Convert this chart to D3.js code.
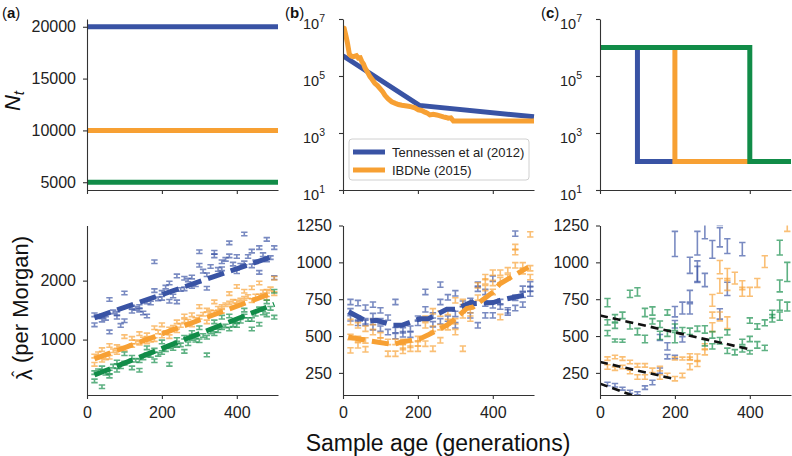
<!DOCTYPE html>
<html><head><meta charset="utf-8">
<script src="https://cdn.jsdelivr.net/npm/d3@7"></script>
<style>body{margin:0;background:#fff} text{font-family:"Liberation Sans",Arial,Helvetica,sans-serif}</style>
</head><body><svg id="c" width="792" height="456"></svg>
<script>
// ---------- DATA ----------
const genTicks = [0, 200, 400];
const topATicks = [5000, 10000, 15000, 20000];
const logTicks = [10, 1000, 100000, 10000000];
const botATicks = [1000, 2000];
const botBCTicks = [250, 500, 750, 1000, 1250];

// (a) top: constant sizes
const topA_gens = [0, 510];
const topA_blue = [20000, 20000];
const topA_orange = [10000, 10000];
const topA_green = [5000, 5000];

// (b) top
const topB_tennGens = [0, 204, 510];
const topB_tennNe = [512000, 9300, 3700];
const topB_ibdGens = [0,3,8,12,17,22,28,36,41,46,50,55,59,65,72,78,85,92,99,106,112,120,130,140,148,157,166,175,183,192,201,210,219,226,232,241,250,259,268,275,281,288,295,510];
const topB_ibdNe = [5.0e6,4.7e6,2.5e6,1.4e6,5.8e5,5.0e5,4.8e5,5.2e5,4.3e5,4.4e5,3.3e5,2.6e5,1.9e5,1.4e5,9.5e4,7.5e4,5.5e4,4.6e4,3.6e4,2.8e4,2.1e4,1.6e4,1.25e4,1.1e4,1.0e4,9400,9100,8700,8300,7600,6500,6200,5400,4900,4300,4500,4300,4000,3700,3500,3300,3400,2630,2630];

// (c) top: step histories
const topC_blueGens = [0, 100, 100, 510];
const topC_blueNe = [1e6, 1e6, 100, 100];
const topC_orangeGens = [0, 200, 200, 510];
const topC_orangeNe = [1e6, 1e6, 100, 100];
const topC_greenGens = [0, 400, 400, 510];
const topC_greenNe = [1e6, 1e6, 100, 100];

// (a) bottom: [generation, lambda]
const botA_blue = [[20,1420],[20,1250],[40,1400],[40,1330],[60,1680],[60,1130],[80,1440],[80,1380],[100,1320],[100,1790],[120,1550],[120,1480],[140,1560],[140,1500],[160,1640],[160,1400],[180,2320],[180,1830],[200,1800],[200,1700],[220,1650],[220,1960],[240,2080],[240,1640],[260,2040],[260,1860],[280,1900],[280,2060],[300,2490],[300,2260],[320,2100],[320,1870],[340,2420],[340,2480],[360,2320],[360,2200],[380,2640],[380,2420],[400,2410],[400,2150],[420,2790],[420,2300],[440,2250],[440,2500],[460,2560],[460,2140],[480,2700],[480,2350],[500,2560],[500,2050],
  [30,1390],[50,1360],[70,1470],[90,1240],[130,1530],[150,1450],[170,1620],[190,1690],[210,1890],[230,1740],[250,1850],[270,2010],[290,1930],[310,2160],[330,2240],[350,2190],[370,2360],[390,2280],[410,2260],[430,2410],[450,2320],[470,2440],[490,2390]];
const botA_orange = [[20,580],[20,720],[40,650],[40,830],[60,900],[60,700],[80,780],[80,880],[100,840],[100,1050],[120,1020],[120,900],[140,940],[140,1100],[160,1080],[160,960],[180,1000],[180,1200],[200,1060],[200,1250],[220,1180],[220,1050],[240,1300],[240,1150],[260,1320],[260,1400],[280,1420],[280,1250],[300,1380],[300,1560],[320,1500],[320,1300],[340,1460],[340,1640],[360,1560],[360,1480],[380,1780],[380,1620],[400,1640],[400,1900],[420,1700],[420,1820],[440,1880],[440,1660],[460,1740],[460,1960],[480,1820],[480,1700],[500,2040],[500,1780],
  [30,760],[50,690],[70,810],[90,850],[130,960],[150,1010],[170,990],[190,1130],[210,1120],[230,1210],[250,1240],[270,1310],[290,1340],[310,1430],[330,1470],[350,1530],[370,1590],[390,1650],[410,1670],[430,1730],[450,1740],[470,1810],[490,1860]];
const botA_green = [[20,300],[20,440],[40,200],[40,520],[60,450],[60,380],[80,620],[80,480],[100,600],[100,760],[120,520],[120,700],[140,640],[140,480],[160,740],[160,860],[180,820],[180,640],[200,780],[200,960],[220,880],[220,580],[240,900],[240,1000],[260,1040],[260,800],[280,1020],[280,1120],[300,980],[300,1200],[320,1040],[320,740],[340,1300],[340,1100],[360,1200],[360,1380],[380,1180],[380,1400],[400,1240],[400,1320],[420,1400],[420,1500],[440,1340],[440,1180],[460,1520],[460,1260],[480,1640],[480,1420],[500,1380],[500,1820],
  [30,470],[50,430],[70,550],[90,540],[130,650],[150,690],[170,730],[190,750],[210,830],[230,850],[250,910],[270,930],[290,990],[310,1070],[330,1130],[350,1150],[370,1230],[390,1250],[410,1310],[430,1340],[450,1430],[470,1450],[490,1530]];
const botA_fitGens = [20, 500];
const botA_fitBlue = [1370, 2420];
const botA_fitOrange = [674, 1800];
const botA_fitGreen = [400, 1600];

// (b) bottom
const botB_blue = [[20,731],[40,724],[60,693],[80,713],[100,674],[140,731],[220,799],[260,849],[280,763],[300,790],[360,849],[400,889],[460,1195],[480,821],[500,851],[20,668],[40,618],[60,600],[80,636],[120,625],[100,550],[120,527],[160,539],[180,550],[200,618],[160,512],[180,509],[220,681],[260,731],[280,618],[300,573],[320,720],[340,738],[360,821],[380,799],[360,573],[400,708],[420,731],[440,674],[460,690],[480,713],[500,788],[20,620],[40,590],[60,590],[80,560],[140,540],[100,600],[140,500],[200,590],[240,640],[260,600],[320,680],[340,640],[380,640],[400,640],[420,700],[440,660],[460,760],[480,780],[500,820],[240,580],[300,650],[380,720]];
const botB_orange = [[500,1190],[460,1104],[460,1070],[460,980],[480,980],[400,930],[420,930],[440,946],[500,900],[380,871],[360,844],[380,826],[400,799],[300,742],[320,731],[240,668],[260,652],[220,618],[280,663],[280,595],[300,527],[320,414],[340,674],[340,618],[420,629],[20,595],[40,573],[60,550],[80,595],[20,494],[40,437],[60,410],[20,403],[100,505],[120,460],[140,460],[160,426],[180,414],[200,414],[120,380],[140,380],[220,448],[240,414],[260,471],[220,573],[80,527],[100,470],[160,460],[180,440],[200,450],[240,550],[260,560],[300,600],[320,640],[340,700],[360,760],[380,900],[400,860],[420,880],[440,900],[480,940],[500,960],[60,470],[40,480],[160,400],[200,480],[280,560]];
const botB_fitBlueGens = [15,63,90,134,157,206,228,277,299,344,348,401,419,473,500];
const botB_fitBlue = [665,600,607,573,573,618,618,681,681,731,720,727,742,772,785];
const botB_fitOrangeGens = [14,63,90,134,157,206,228,277,295,330,348,401,419,495];
const botB_fitOrange = [494,471,460,442,460,482,509,573,607,686,697,799,855,968];

// (c) bottom: [generation, lambda, error]
const botC_blue = [[20,175,12],[40,166,12],[60,143,10],[80,122,10],[100,112,10],[120,150,12],[140,185,15],[160,265,18],[180,360,15],[200,358,12],[160,490,20],[180,430,25],[200,580,25],[200,665,35],[220,478,18],[220,690,40],[240,685,35],[240,770,40],[260,918,55],[240,980,55],[200,1125,85],[260,1130,80],[280,1210,50],[300,1088,60],[320,1170,65],[340,1110,50],[380,1090,45],[260,940,70],[280,880,45],[340,820,45],[320,650,35],[320,1290,40]];
const botC_orange = [[20,347,12],[40,358,12],[60,347,12],[80,324,12],[20,290,15],[40,279,12],[60,290,12],[80,256,12],[100,301,12],[120,301,12],[100,222,15],[120,222,15],[140,267,15],[160,279,15],[160,222,15],[180,233,15],[200,211,15],[220,233,15],[200,347,10],[220,347,10],[240,347,10],[240,292,20],[240,360,20],[260,313,20],[260,353,25],[280,392,20],[280,428,20],[300,560,30],[300,642,20],[300,742,40],[320,633,30],[340,590,40],[320,840,50],[340,850,40],[320,968,45],[340,918,40],[360,893,40],[380,845,30],[380,800,30],[400,800,30],[420,860,30],[440,1005,40],[500,1235,25]];
const botC_green = [[20,727,28],[20,593,18],[20,520,18],[40,570,18],[40,620,25],[60,640,22],[80,786,25],[100,800,28],[80,570,22],[100,530,22],[120,660,28],[120,480,25],[140,670,28],[140,600,18],[160,505,28],[160,580,22],[180,660,18],[180,520,22],[200,560,22],[200,490,35],[220,540,18],[240,532,22],[260,550,18],[280,545,25],[300,508,22],[280,455,22],[300,430,18],[320,468,22],[340,525,18],[340,400,18],[360,390,18],[380,410,18],[380,460,18],[400,480,18],[400,390,12],[420,440,22],[440,420,18],[400,605,18],[420,565,18],[440,590,20],[460,620,25],[460,650,25],[480,635,28],[480,710,35],[500,700,30],[480,840,40],[500,935,65],[480,1100,50],[40,470,10],[60,468,10]];
const botC_fitBlue = [[0,177],[100,85]];
const botC_fitOrange = [[0,324],[195,211]];
const botC_fitGreen = [[0,640],[400,410]];

// ---------- DRAWING ----------
const svg = d3.select("#c");
const FONT = '"Liberation Sans",Arial,Helvetica,sans-serif';
const COL = {blue:"#3953a4", orange:"#f7a033", green:"#118c48"};
const X0 = [87, 343, 600], PW = 191;
const topR = [190, 19], botR = [395, 225.5];
const xs = X0.map(x => d3.scaleLinear().domain([0, 510]).range([x, x + PW]));

function styleAxis(g){
  g.selectAll(".domain").attr("stroke","#333").attr("stroke-width",1.1);
  g.selectAll(".tick line").attr("stroke","#333").attr("stroke-width",1.1);
  g.selectAll(".tick text").attr("fill","#222").attr("font-family",FONT).attr("font-size","16px");
}
function xAxis(i, y, labels){
  const g = svg.append("g").attr("transform",`translate(0,${y})`)
    .call(d3.axisBottom(xs[i]).tickValues(genTicks).tickSize(4).tickSizeOuter(0).tickPadding(8)
      .tickFormat(labels ? d3.format("d") : ""));
  styleAxis(g);
}
function yAxis(i, scale, ticks, fmt, pad){
  const g = svg.append("g").attr("transform",`translate(${X0[i]},0)`)
    .call(d3.axisLeft(scale).tickValues(ticks).tickSize(4).tickSizeOuter(0).tickPadding(pad||7).tickFormat(fmt||d3.format("d")));
  styleAxis(g);
  return g;
}
function clip(id, i, r){
  svg.append("clipPath").attr("id",id).append("rect")
    .attr("x",X0[i]).attr("y",r[1]).attr("width",PW+2).attr("height",r[0]-r[1]);
}
const line = (x, y) => d3.line().x(d => x(d[0])).y(d => y(d[1]));
const zip = (a, b) => a.map((v, k) => [v, b[k]]);

function drawLine(i, y, gens, vals, col, w, dash, clipId){
  const p = svg.append("path").datum(zip(gens, vals))
    .attr("d", line(xs[i], y)).attr("fill","none").attr("stroke",col)
    .attr("stroke-width",w).attr("stroke-linejoin","miter");
  if (dash) p.attr("stroke-dasharray",dash);
  if (clipId) p.attr("clip-path",`url(#${clipId})`);
}
function drawErr(i, y, pts, col, defErr, clipId){
  const x = xs[i];
  svg.append("g").attr("clip-path",`url(#${clipId})`).selectAll("path").data(pts).join("path")
    .attr("d", d => {
      const e = d.length > 2 ? d[2] : defErr;
      const cx = x(d[0]), y1 = y(d[1]-e), y2 = y(d[1]+e);
      return `M${cx-3.2},${y1}H${cx+3.2}M${cx},${y1}V${y2}M${cx-3.2},${y2}H${cx+3.2}`;
    })
    .attr("fill","none").attr("stroke",col).attr("stroke-width",1.6).attr("stroke-opacity",0.68);
}

// ---- top row ----
const yTopA = d3.scaleLinear().domain([4250, 20750]).range(topR);
const yLog = d3.scaleLog().domain([10, 1e7]).range(topR);

clip("ct0",0,topR); clip("ct1",1,topR); clip("ct2",2,topR);
drawLine(0, yTopA, topA_gens, topA_blue, COL.blue, 5, null, "ct0");
drawLine(0, yTopA, topA_gens, topA_orange, COL.orange, 5, null, "ct0");
drawLine(0, yTopA, topA_gens, topA_green, COL.green, 5, null, "ct0");

drawLine(1, yLog, topB_tennGens, topB_tennNe, COL.blue, 5, null, "ct1");
drawLine(1, yLog, topB_ibdGens, topB_ibdNe, COL.orange, 5, null, "ct1");

drawLine(2, yLog, topC_blueGens, topC_blueNe, COL.blue, 5, null, "ct2");
drawLine(2, yLog, topC_orangeGens, topC_orangeNe, COL.orange, 5, null, "ct2");
drawLine(2, yLog, topC_greenGens, topC_greenNe, COL.green, 5, null, "ct2");

for (let i = 0; i < 3; i++) xAxis(i, topR[0], false);
yAxis(0, yTopA, topATicks);
function logFmt(g){
  g.selectAll(".tick text").each(function(d){
    const t = d3.select(this);
    const e = Math.round(Math.log10(d));
    t.text(null).attr("font-size","14.5px").attr("dy","0.64em").attr("x",-18);
    t.append("tspan").text("10");
    t.append("tspan").attr("dy","-0.64em").attr("font-size","10.5px").text(e);
  });
}
logFmt(yAxis(1, yLog, logTicks, d => d));
logFmt(yAxis(2, yLog, logTicks, d => d));

// legend
const lg = svg.append("g");
lg.append("rect").attr("x",349).attr("y",139).attr("width",180).attr("height",41).attr("rx",3)
  .attr("fill","#fff").attr("fill-opacity",0.85).attr("stroke","#d0d0d0").attr("stroke-width",1);
[["Tennessen et al (2012)", COL.blue, 152], ["IBDNe (2015)", COL.orange, 170]].forEach(([t, c, yy]) => {
  lg.append("line").attr("x1",353).attr("x2",385).attr("y1",yy).attr("y2",yy).attr("stroke",c).attr("stroke-width",5);
  lg.append("text").attr("x",392).attr("y",yy+4.6).attr("font-size","13px").attr("fill","#222").text(t);
});

// ---- bottom row ----
const yBotA = d3.scaleLinear().domain([60, 2935]).range(botR);
const yBotB = d3.scaleLinear().domain([100, 1250]).range(botR);

clip("cb0",0,botR); clip("cb1",1,botR); clip("cb2",2,botR);
drawErr(0, yBotA, botA_blue, COL.blue, 30, "cb0");
drawErr(0, yBotA, botA_orange, COL.orange, 30, "cb0");
drawErr(0, yBotA, botA_green, COL.green, 30, "cb0");
drawLine(0, yBotA, botA_fitGens, botA_fitBlue, COL.blue, 5, "17,7", "cb0");
drawLine(0, yBotA, botA_fitGens, botA_fitOrange, COL.orange, 5, "17,7", "cb0");
drawLine(0, yBotA, botA_fitGens, botA_fitGreen, COL.green, 5, "17,7", "cb0");

drawErr(1, yBotB, botB_blue, COL.blue, 18, "cb1");
drawErr(1, yBotB, botB_orange, COL.orange, 18, "cb1");
drawLine(1, yBotB, botB_fitBlueGens, botB_fitBlue, COL.blue, 5, "17,7", "cb1");
drawLine(1, yBotB, botB_fitOrangeGens, botB_fitOrange, COL.orange, 5, "17,7", "cb1");

drawErr(2, yBotB, botC_blue, COL.blue, 15, "cb2");
drawErr(2, yBotB, botC_orange, COL.orange, 15, "cb2");
drawErr(2, yBotB, botC_green, COL.green, 15, "cb2");
[botC_fitBlue, botC_fitOrange, botC_fitGreen].forEach(f => {
  drawLine(2, yBotB, f.map(d => d[0]), f.map(d => d[1]), "#111", 2.6, "8,5", "cb2");
});

for (let i = 0; i < 3; i++) xAxis(i, botR[0], true);
yAxis(0, yBotA, botATicks);
yAxis(1, yBotB, botBCTicks);
yAxis(2, yBotB, botBCTicks);

// ---- labels ----
svg.append("text").attr("x",438).attr("y",451).attr("text-anchor","middle")
  .attr("font-size","23px").attr("fill","#111").text("Sample age (generations)");

const nt = svg.append("text").attr("transform","translate(20,101) rotate(-90)")
  .attr("text-anchor","middle").attr("font-size","22px").attr("fill","#111");
nt.append("tspan").attr("font-style","italic").text("N");
nt.append("tspan").attr("font-style","italic").attr("font-size","15px").attr("dy","0.28em").text("t");

// lambda-hat label: lambda, then " (per Morgan)", hat placed over lambda
const lamG = svg.append("g").attr("transform","translate(28,308) rotate(-90)");
const lamT = lamG.append("text").attr("text-anchor","middle").attr("font-size","22px").attr("fill","#111");
lamT.append("tspan").attr("dy","0.18em").text("\u03BB");
lamT.append("tspan").attr("dy","-0.18em").text(" (per Morgan)");
const ext = lamT.node().getExtentOfChar(0);
lamG.append("text").attr("x", ext.x + ext.width/2 + 1).attr("y", -3)
  .attr("text-anchor","middle").attr("font-size","18px").attr("fill","#111").text("\u02C6");

[["a",2],["b",285],["c",541]].forEach(([l, x]) => {
  const t = svg.append("text").attr("x",x).attr("y",18).attr("font-size","15px").attr("fill","#111");
  t.append("tspan").text("(");
  t.append("tspan").attr("font-weight","bold").text(l);
  t.append("tspan").text(")");
});
</script></body></html>
